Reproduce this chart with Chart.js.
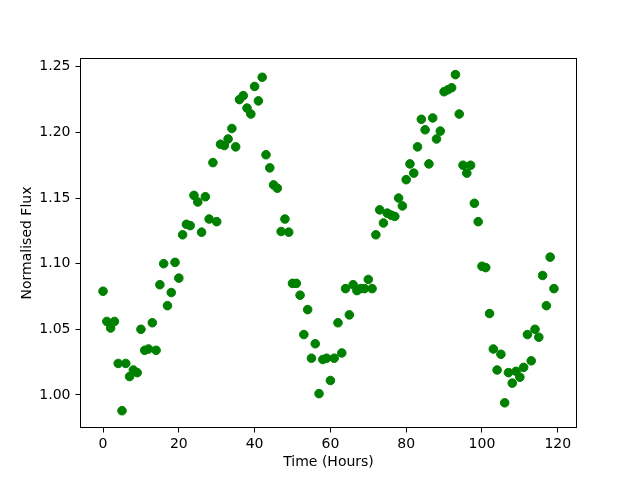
<!DOCTYPE html>
<html>
<head>
<meta charset="utf-8">
<script src="https://cdn.jsdelivr.net/npm/chart.js@4"></script>
<style>
  body { margin: 0; background: #fff; }
  canvas { display: block; }
</style>
</head>
<body>
<canvas id="fluxChart" width="640" height="480"></canvas>
<script>
// Observation times (hours)
const hours = [
  0, 1, 2, 3, 4, 5, 6, 7, 8, 9, 10, 11, 12, 13, 14, 15, 16, 17, 18, 19,
  20, 21, 22, 23, 24, 25, 26, 27, 28, 29, 30, 31, 32, 33, 34, 35, 36, 37, 38, 39,
  40, 41, 42, 43, 44, 45, 46, 47, 48, 49, 50, 51, 52, 53, 54, 55, 56, 57, 58, 59,
  60, 61, 62, 63, 64, 65, 66, 67, 68, 69, 70, 71, 72, 73, 74, 75, 76, 77, 78, 79,
  80, 81, 82, 83, 84, 85, 86, 87, 88, 89, 90, 91, 92, 93, 94, 95, 96, 97, 98, 99,
  100, 101, 102, 103, 104, 105, 106, 107, 108, 109, 110, 111, 112, 113, 114, 115, 116, 117, 118, 119
];

// Normalised flux
const flux = [
  1.079, 1.056, 1.051, 1.056, 1.024, 0.988, 1.024, 1.014, 1.019, 1.017,
  1.050, 1.034, 1.035, 1.055, 1.034, 1.084, 1.100, 1.068, 1.078, 1.101,
  1.089, 1.122, 1.130, 1.129, 1.152, 1.147, 1.124, 1.151, 1.134, 1.177,
  1.132, 1.191, 1.190, 1.195, 1.203, 1.189, 1.225, 1.228, 1.2185, 1.214,
  1.235, 1.224, 1.242, 1.183, 1.173, 1.160, 1.1575, 1.1245, 1.134, 1.124,
  1.085, 1.085, 1.076, 1.046, 1.065, 1.028, 1.039, 1.001, 1.027, 1.028,
  1.011, 1.028, 1.055, 1.032, 1.081, 1.061, 1.084, 1.0795, 1.081, 1.081,
  1.088, 1.081, 1.122, 1.141, 1.131, 1.1385, 1.137, 1.136, 1.150, 1.144,
  1.164, 1.176, 1.169, 1.189, 1.210, 1.202, 1.176, 1.211, 1.195, 1.201,
  1.231, 1.2325, 1.234, 1.244, 1.214, 1.175, 1.169, 1.175, 1.146, 1.132,
  1.098, 1.097, 1.062, 1.035, 1.019, 1.031, 0.994, 1.017, 1.009, 1.018,
  1.0135, 1.021, 1.046, 1.026, 1.050, 1.044, 1.091, 1.068, 1.105, 1.081
];

const xTicks = [0, 20, 40, 60, 80, 100, 120];
const yTicks = [1.00, 1.05, 1.10, 1.15, 1.20, 1.25];

const tickFont = { family: 'DejaVu Sans', size: 14, lineHeight: 1.2 };

// matplotlib-style frame round the plot area
const frame = {
  id: 'frame',
  afterDraw(chart) {
    const { ctx, chartArea: a } = chart;
    ctx.save();
    ctx.strokeStyle = '#000';
    ctx.lineWidth = 1;
    ctx.strokeRect(a.left, a.top, a.right - a.left, a.bottom - a.top);
    ctx.restore();
  }
};

new Chart(document.getElementById('fluxChart'), {
  type: 'scatter',
  data: {
    datasets: [{
      data: hours.map((h, i) => ({ x: h, y: flux[i] })),
      backgroundColor: '#008000',
      borderColor: '#008000',
      borderWidth: 1,
      pointRadius: 4.3,
      pointHoverRadius: 4.3
    }]
  },
  options: {
    responsive: false,
    animation: false,
    devicePixelRatio: 1,
    layout: { padding: { top: 58.5, right: 63.5, left: 0, bottom: 0 } },
    plugins: { legend: { display: false }, tooltip: { enabled: false } },
    scales: {
      x: {
        type: 'linear',
        min: -5.95,
        max: 124.95,
        afterFit(scale) { scale.height = 52.5; },
        afterBuildTicks(scale) { scale.ticks = xTicks.map(v => ({ value: v })); },
        grid: { display: true, drawOnChartArea: false, drawTicks: true, tickLength: 5, color: '#000' },
        border: { display: false },
        ticks: { color: '#000', font: tickFont, padding: 3, maxRotation: 0 },
        title: { display: true, text: 'Time (Hours)', color: '#000', font: tickFont, padding: { top: 0, bottom: 9 } }
      },
      y: {
        type: 'linear',
        min: 0.9752,
        max: 1.2563,
        afterFit(scale) { scale.width = 80.5; },
        afterBuildTicks(scale) { scale.ticks = yTicks.map(v => ({ value: v })); },
        grid: { display: true, drawOnChartArea: false, drawTicks: true, tickLength: 5, color: '#000' },
        border: { display: false },
        ticks: { color: '#000', font: tickFont, padding: 5, callback: v => v.toFixed(2) },
        title: { display: true, text: 'Normalised Flux', color: '#000', font: tickFont, padding: { top: 19, bottom: 0 } }
      }
    }
  },
  plugins: [frame]
});
</script>
</body>
</html>
